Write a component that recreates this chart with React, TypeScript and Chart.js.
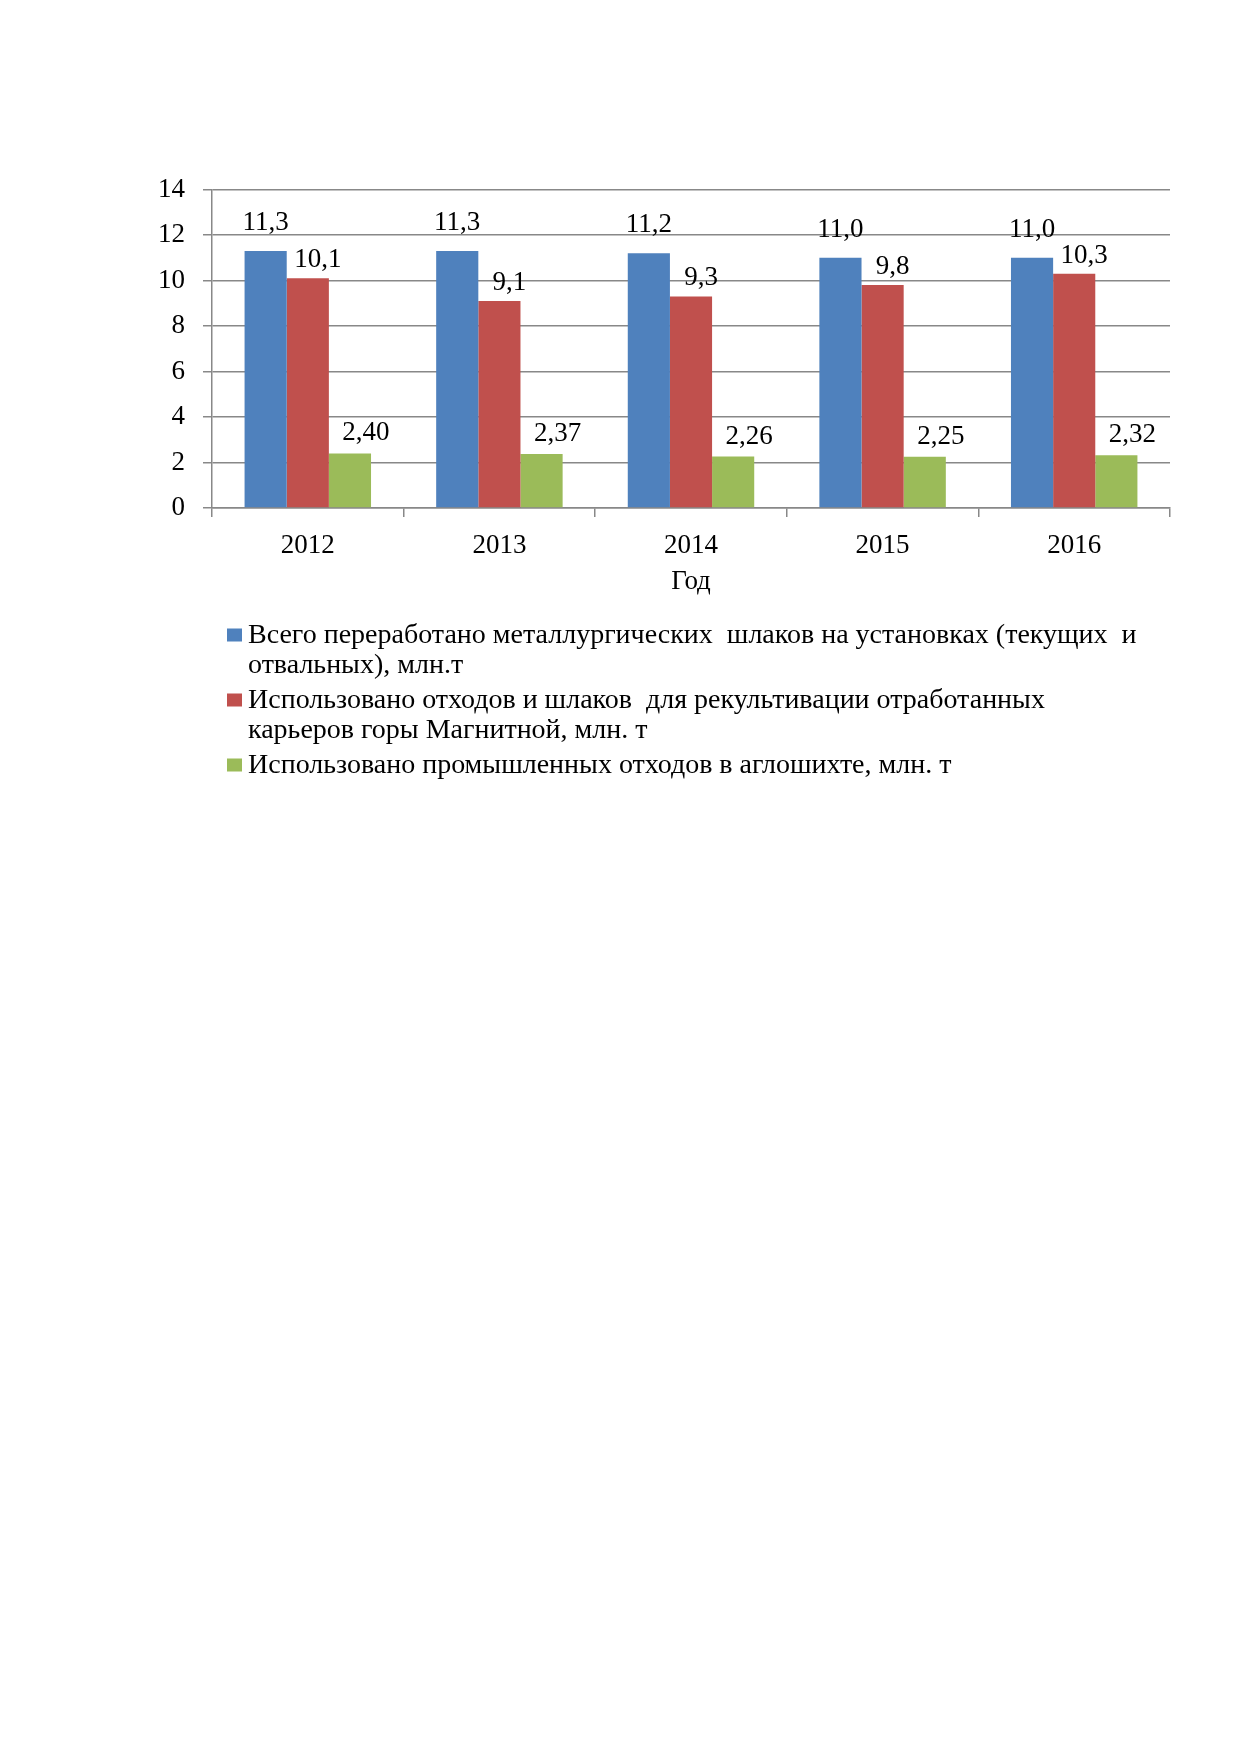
import { useEffect, useRef } from "react";
import { Chart, registerables } from "chart.js";

Chart.register(...registerables);

const categories = ["2012", "2013", "2014", "2015", "2016"];
const processedSlag = [11.3, 11.3, 11.2, 11.0, 11.0];
const reclamationWaste = [10.1, 9.1, 9.3, 9.8, 10.3];
const sinterWaste = [2.4, 2.37, 2.26, 2.25, 2.32];
const seriesDecimals = [1, 1, 2];
const seriesNames = [
  "Всего переработано металлургических шлаков на установках (текущих и отвальных), млн.т",
  "Использовано отходов и шлаков для рекультивации отработанных карьеров горы Магнитной, млн. т",
  "Использовано промышленных отходов в аглошихте, млн. т",
];
const legendLines = [
  ["Всего переработано металлургических  шлаков на установках (текущих  и", "отвальных), млн.т"],
  ["Использовано отходов и шлаков  для рекультивации отработанных", "карьеров горы Магнитной, млн. т"],
  ["Использовано промышленных отходов в аглошихте, млн. т"],
];
const axisTitle = "Год";

const COLORS = ["#4F81BD", "#C0504D", "#9BBB59"];
const GRID = "#888888";
const FONT_FAMILY = '"Liberation Serif", "Times New Roman", serif';
const LABEL_DX = [0, 10, 16];
const LABEL_GAP = [21, 11, 13];

const dataLabelsPlugin = {
  id: "dataLabels",
  afterDatasetsDraw(chart: any) {
    const ctx = chart.ctx;
    ctx.save();
    ctx.font = `27px ${FONT_FAMILY}`;
    ctx.fillStyle = "#000";
    ctx.textAlign = "center";
    ctx.textBaseline = "alphabetic";
    chart.data.datasets.forEach((ds: any, di: number) => {
      const meta = chart.getDatasetMeta(di);
      meta.data.forEach((bar: any, i: number) => {
        const txt = Number(ds.data[i]).toFixed(seriesDecimals[di]).replace(".", ",");
        ctx.fillText(txt, bar.x + LABEL_DX[di], bar.y - LABEL_GAP[di]);
      });
    });
    ctx.restore();
  },
};

const legendPlugin = {
  id: "customLegend",
  afterDraw(chart: any) {
    const ctx = chart.ctx;
    const area = chart.chartArea;
    ctx.save();
    ctx.font = `28px ${FONT_FAMILY}`;
    ctx.textAlign = "left";
    ctx.textBaseline = "alphabetic";
    let y = area.bottom + 134.5;
    legendLines.forEach((lines, i) => {
      ctx.fillStyle = COLORS[i];
      ctx.fillRect(area.left + 15, y - 14, 15, 13);
      ctx.fillStyle = "#000";
      lines.forEach((line, li) => {
        ctx.fillText(line, area.left + 36, y);
        if (li < lines.length - 1) y += 30.5;
      });
      y += 34.5;
    });
    ctx.restore();
  },
};

export default function App() {
  const ref = useRef<HTMLCanvasElement | null>(null);
  useEffect(() => {
    if (!ref.current) return;
    const font = { family: FONT_FAMILY, size: 27 };
    const chart = new Chart(ref.current, {
      type: "bar",
      data: {
        labels: categories,
        datasets: [processedSlag, reclamationWaste, sinterWaste].map((d, i) => ({
          label: seriesNames[i],
          data: d,
          backgroundColor: COLORS[i],
          borderWidth: 0,
          categoryPercentage: 0.66,
          barPercentage: 1.0,
        })),
      },
      options: {
        animation: false,
        responsive: false,
        devicePixelRatio: 1,
        layout: { padding: { left: 100, top: 189.5, right: 70, bottom: 302 } },
        plugins: {
          legend: { display: false },
          tooltip: { enabled: false },
        },
        scales: {
          x: {
            grid: { offset: true, drawOnChartArea: false, color: GRID, tickLength: 9, lineWidth: 1.5 },
            border: { color: GRID, width: 1.5 },
            ticks: { font, color: "#000", padding: 13 },
            title: { display: true, text: axisTitle, font, color: "#000", padding: { top: 2, bottom: 0 } },
            afterFit: (s: any) => {
              s.height = 90;
            },
          },
          y: {
            min: 0,
            max: 14,
            ticks: { stepSize: 2, font, color: "#000", padding: 18 },
            grid: { color: GRID, tickLength: 9, lineWidth: 1.5 },
            border: { color: GRID, width: 1.5 },
            afterFit: (s: any) => {
              s.width = 112;
            },
          },
        },
      },
      plugins: [dataLabelsPlugin, legendPlugin],
    });
    return () => chart.destroy();
  }, []);
  return (
    <div style={{ position: "absolute", left: 0, top: 0, width: 1240, height: 900, background: "#fff" }}>
      <canvas ref={ref} width={1240} height={900} style={{ display: "block" }} />
    </div>
  );
}
